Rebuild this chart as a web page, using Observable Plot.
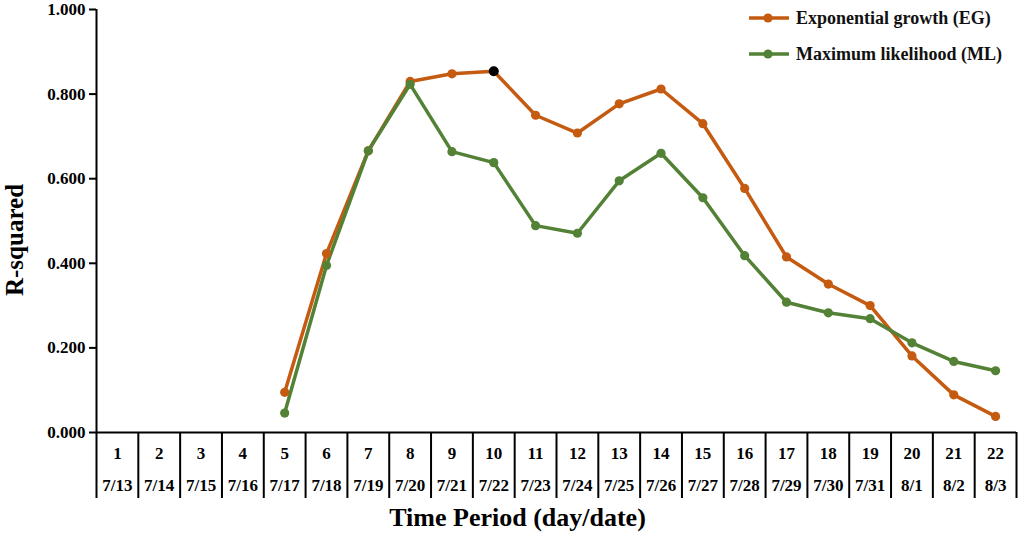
<!DOCTYPE html>
<html>
<head>
<meta charset="utf-8">
<script src="https://cdn.jsdelivr.net/npm/d3@7"></script>
<script src="https://cdn.jsdelivr.net/npm/@observablehq/plot@0.6"></script>
<style>
  html, body { margin: 0; padding: 0; background: #fff; }
  #wrap { position: relative; width: 1021px; height: 542px; }
  #legend { position: absolute; left: 748px; top: 6px; font-family: "Liberation Serif", "Times New Roman", serif; font-weight: bold; font-size: 18px; color: #111; }
  #legend .item { display: flex; align-items: center; height: 24px; margin-bottom: 12px; }
  #legend svg { margin-right: 6px; }
</style>
</head>
<body>
<div id="wrap"><div id="chart"></div><div id="legend"></div></div>
<script>
const days = [1,2,3,4,5,6,7,8,9,10,11,12,13,14,15,16,17,18,19,20,21,22];
const dates = ["7/13","7/14","7/15","7/16","7/17","7/18","7/19","7/20","7/21","7/22","7/23","7/24","7/25","7/26","7/27","7/28","7/29","7/30","7/31","8/1","8/2","8/3"];
const egValues = [null,null,null,null,0.095,0.423,0.666,0.830,0.848,0.854,0.750,0.708,0.777,0.812,0.730,0.577,0.415,0.351,0.300,0.181,0.089,0.038];
const mlValues = [null,null,null,null,0.046,0.395,0.666,0.823,0.664,0.638,0.489,0.471,0.595,0.660,0.555,0.418,0.308,0.283,0.269,0.212,0.168,0.146];
const yTicks = [0, 0.2, 0.4, 0.6, 0.8, 1.0];
const seriesNames = ["Exponential growth (EG)", "Maximum likelihood (ML)"];
const seriesColors = ["#C55A11", "#538135"];
const highlightDay = 10;

const eg = days.map((d, i) => ({day: d, value: egValues[i]})).filter(d => d.value != null);
const ml = days.map((d, i) => ({day: d, value: mlValues[i]})).filter(d => d.value != null);
const boundaries = days.map(d => d - 0.5).concat([days[days.length - 1] + 0.5]);
const dateOf = new Map(days.map((d, i) => [d, dates[i]]));

const chart = Plot.plot({
  width: 1021,
  height: 542,
  marginLeft: 96,
  marginRight: 5,
  marginTop: 9,
  marginBottom: 110,
  style: {fontFamily: "Liberation Serif, Times New Roman, serif", background: "#fff", color: "#000"},
  x: {type: "linear", domain: [boundaries[0], boundaries[boundaries.length - 1]]},
  y: {domain: [0, 1]},
  marks: [
    Plot.axisY({ticks: yTicks, tickFormat: d3.format(".3f"), tickSize: 7, tickPadding: 4, fontSize: 17, fontWeight: "bold", strokeWidth: 2, label: null}),
    Plot.axisX({ticks: boundaries, tickSize: 66, tickFormat: () => "", strokeWidth: 2, label: null}),
    Plot.axisX({ticks: days, tickSize: 0, tickPadding: 14, tickFormat: d => String(d), fontSize: 17, fontWeight: "bold", label: null}),
    Plot.axisX({ticks: days, tickSize: 0, tickPadding: 46, tickFormat: d => dateOf.get(d), fontSize: 17, fontWeight: "bold", label: null}),
    Plot.ruleX([boundaries[0]], {stroke: "#000", strokeWidth: 2}),
    Plot.ruleY([0], {stroke: "#000", strokeWidth: 2}),
    Plot.line(eg, {x: "day", y: "value", stroke: seriesColors[0], strokeWidth: 3.5}),
    Plot.line(ml, {x: "day", y: "value", stroke: seriesColors[1], strokeWidth: 3.5}),
    Plot.dot(eg, {x: "day", y: "value", fill: seriesColors[0], r: 4.6}),
    Plot.dot(ml, {x: "day", y: "value", fill: seriesColors[1], r: 4.6}),
    Plot.dot(eg.filter(d => d.day === highlightDay), {x: "day", y: "value", fill: "#000", r: 5}),
    Plot.text(["R-squared"], {frameAnchor: "left", textAnchor: "middle", rotate: -90, dx: -82, dy: 19, fontSize: 25, fontWeight: "bold", fill: "#000"}),
    Plot.text(["Time Period (day/date)"], {frameAnchor: "bottom", textAnchor: "middle", dx: -39, dy: 93, fontSize: 26, fontWeight: "bold", fill: "#000"})
  ]
});
document.getElementById("chart").appendChild(chart);

const legend = document.getElementById("legend");
seriesNames.forEach((name, i) => {
  const item = document.createElement("div");
  item.className = "item";
  item.innerHTML = `<svg width="42" height="12"><line x1="1" y1="6" x2="41" y2="6" stroke="${seriesColors[i]}" stroke-width="3.5"/><circle cx="20" cy="6" r="4.6" fill="${seriesColors[i]}"/></svg><span>${name}</span>`;
  legend.appendChild(item);
});
</script>
</body>
</html>
